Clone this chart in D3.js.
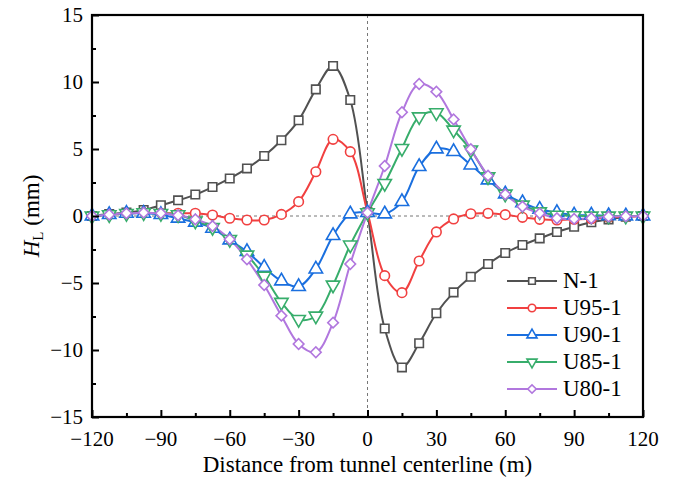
<!DOCTYPE html>
<html>
<head>
<meta charset="utf-8">
<script src="https://cdn.jsdelivr.net/npm/d3@7"></script>
<style>
  svg text { font-family: "Liberation Serif"; }
</style>
</head>
<body style="margin:0">
<svg id="chart" width="677" height="485"></svg>
<script>
// distance from centerline, every 7.5 m
const distances = d3.range(-120, 120.01, 7.5);

const seriesNames = ["N-1", "U95-1", "U90-1", "U85-1", "U80-1"];
const seriesColors = ["#515151", "#F14040", "#1A6FDF", "#37AD6B", "#B177DE"];
const seriesSymbols = ["square", "circle", "triangle", "triangleDown", "diamond"];

const n1 = [0, 0.15, 0.25, 0.45, 0.8, 1.17, 1.6, 2.16, 2.8, 3.55, 4.48, 5.65, 7.14, 9.45, 11.2, 8.66,
  0.28,
  -8.4, -11.3, -9.5, -7.26, -5.7, -4.53, -3.58, -2.76, -2.16, -1.67, -1.19, -0.8, -0.47, -0.25, -0.05, 0];
const u95 = [0, 0.1, 0.2, 0.25, 0.2, 0.2, 0.2, 0.07, -0.17, -0.3, -0.3, 0.12, 1.07, 3.3, 5.72, 4.8,
  0.28,
  -4.45, -5.72, -3.36, -1.19, -0.22, 0.17, 0.2, 0.1, -0.1, -0.25, -0.3, -0.25, -0.2, -0.1, -0.05, 0];
const u90 = [0, 0.1, 0.2, 0.2, 0.1, -0.17, -0.47, -0.92, -1.79, -2.66, -3.83, -4.85, -5.27, -3.96, -1.47, 0.15,
  0.25,
  0.15, 1.07, 3.68, 5.0, 4.8, 3.8, 2.69, 1.64, 0.99, 0.5, 0.25, 0.07, 0.07, 0.02, 0, 0];
const u85 = [0, 0.1, 0.2, 0.25, 0.2, 0.1, -0.37, -0.85, -1.74, -2.91, -4.48, -6.44, -7.71, -7.46, -5.15, -2.16,
  0.25,
  2.44, 5.05, 7.41, 7.71, 6.42, 4.93, 2.93, 1.64, 0.82, 0.32, 0.07, 0.03, 0, 0, 0, 0];
const u80 = [0, 0.1, 0.2, 0.25, 0.2, 0.05, -0.25, -0.75, -1.74, -3.23, -5.15, -7.44, -9.55, -10.17, -7.96, -3.58,
  0.25,
  3.73, 7.74, 9.85, 9.28, 7.21, 4.98, 3.01, 1.62, 0.7, 0.2, -0.17, -0.22, -0.17, -0.05, -0.02, 0];
const seriesValues = [n1, u95, u90, u85, u80];

const xTicks = [-120, -90, -60, -30, 0, 30, 60, 90, 120];
const yTicks = [-15, -10, -5, 0, 5, 10, 15];

const margin = { top: 15, right: 34, bottom: 68, left: 92 };
const width = 677, height = 485;
const innerW = width - margin.left - margin.right;
const innerH = height - margin.top - margin.bottom;
const font = `"Liberation Serif"`;

const svg = d3.select("#chart");
const g = svg.append("g").attr("transform", `translate(${margin.left},${margin.top})`);

const x = d3.scaleLinear().domain([-120, 120]).range([0, innerW]);
const y = d3.scaleLinear().domain([-15, 15]).range([innerH, 0]);

// dashed zero lines
g.append("line")
  .attr("x1", 0).attr("x2", innerW)
  .attr("y1", y(0)).attr("y2", y(0))
  .attr("stroke", "#777").attr("stroke-width", 1).attr("stroke-dasharray", "3,3");
g.append("line")
  .attr("x1", x(0)).attr("x2", x(0))
  .attr("y1", 0).attr("y2", innerH)
  .attr("stroke", "#777").attr("stroke-width", 1).attr("stroke-dasharray", "3,3");

// series lines
const line = d3.line()
  .x((d, i) => x(distances[i]))
  .y(d => y(d))
  .curve(d3.curveCatmullRom.alpha(0.5));

const symbolTypes = {
  square: d3.symbolSquare,
  circle: d3.symbolCircle,
  triangle: d3.symbolTriangle,
  triangleDown: d3.symbolTriangle,
  diamond: d3.symbolSquare
};
const symbolRot = { triangleDown: 180, diamond: 45 };

function symbolPath(kind, size) {
  return d3.symbol(symbolTypes[kind], size)();
}
function symbolRotate(kind) {
  return symbolRot[kind] ? ` rotate(${symbolRot[kind]})` : "";
}

seriesValues.forEach((vals, si) => {
  g.append("path")
    .datum(vals)
    .attr("fill", "none")
    .attr("stroke", seriesColors[si])
    .attr("stroke-width", 2)
    .attr("d", line);
});

const markerSize = { square: 72, circle: 72, triangle: 78, triangleDown: 78, diamond: 56 };
seriesValues.forEach((vals, si) => {
  const kind = seriesSymbols[si];
  g.append("g")
    .selectAll("path")
    .data(vals)
    .join("path")
    .attr("transform", (d, i) => `translate(${x(distances[i])},${y(d)})` + symbolRotate(kind))
    .attr("d", symbolPath(kind, markerSize[kind]))
    .attr("fill", "#fff")
    .attr("stroke", seriesColors[si])
    .attr("stroke-width", 1.6);
});

// axes: ticks drawn with d3 axis, labels written as plain texts
const xMajor = d3.axisBottom(x).tickValues(xTicks).tickSize(-7).tickFormat("");
const xMinor = d3.axisBottom(x).tickValues(d3.range(-105, 120, 30)).tickSize(-4).tickFormat("");
const yMajor = d3.axisLeft(y).tickValues(yTicks).tickSize(-7).tickFormat("");
const yMinor = d3.axisLeft(y).tickValues(d3.range(-12.5, 15, 5)).tickSize(-4).tickFormat("");

function styleAxis(sel) {
  sel.select(".domain").remove();
  sel.selectAll("text").remove();
  sel.selectAll("line").attr("stroke", "#000").attr("stroke-width", 2);
}

g.append("g").attr("transform", `translate(0,${innerH})`).call(xMajor).call(styleAxis);
g.append("g").attr("transform", `translate(0,${innerH})`).call(xMinor).call(styleAxis);
g.append("g").call(yMajor).call(styleAxis);
g.append("g").call(yMinor).call(styleAxis);

const fmt = d3.format("d");
g.append("g")
  .selectAll("text")
  .data(xTicks)
  .join("text")
  .attr("x", d => x(d))
  .attr("y", innerH + 29)
  .attr("text-anchor", "middle")
  .attr("font-size", 21)
  .attr("fill", "#000")
  .style("font-family", font)
  .text(d => fmt(d));

g.append("g")
  .selectAll("text")
  .data(yTicks)
  .join("text")
  .attr("x", -9)
  .attr("y", d => y(d) + 7)
  .attr("text-anchor", "end")
  .attr("font-size", 21)
  .attr("fill", "#000")
  .style("font-family", font)
  .text(d => fmt(d));

// frame
g.append("rect")
  .attr("x", 0).attr("y", 0)
  .attr("width", innerW).attr("height", innerH)
  .attr("fill", "none").attr("stroke", "#000").attr("stroke-width", 2.2);

// axis titles
svg.append("text")
  .attr("x", margin.left + innerW / 2)
  .attr("y", 472)
  .attr("text-anchor", "middle")
  .attr("font-size", 23)
  .style("font-family", font)
  .text("Distance from tunnel centerline (m)");

const yTitle = svg.append("text")
  .attr("transform", `translate(39,${margin.top + innerH / 2}) rotate(-90)`)
  .attr("text-anchor", "middle")
  .attr("font-size", 23)
  .style("font-family", font);
yTitle.append("tspan").attr("font-style", "italic").text("H");
yTitle.append("tspan").attr("font-size", 15).attr("dy", 4).text("L");
yTitle.append("tspan").attr("dy", -4).text(" (mm)");

// legend
const legend = svg.append("g").attr("transform", "translate(507,281)");
seriesNames.forEach((name, i) => {
  const row = legend.append("g").attr("transform", `translate(0,${i * 27})`);
  row.append("line")
    .attr("x1", 0).attr("x2", 50).attr("y1", 0).attr("y2", 0)
    .attr("stroke", seriesColors[i]).attr("stroke-width", 2);
  const kind = seriesSymbols[i];
  row.append("path")
    .attr("transform", "translate(25,0)" + symbolRotate(kind))
    .attr("d", symbolPath(kind, kind === "diamond" ? 36 : 44))
    .attr("fill", "#fff")
    .attr("stroke", seriesColors[i])
    .attr("stroke-width", 1.6);
  row.append("text")
    .attr("x", 56).attr("y", 7)
    .attr("font-size", 23)
    .style("font-family", font)
    .text(name);
});
</script>
</body>
</html>
